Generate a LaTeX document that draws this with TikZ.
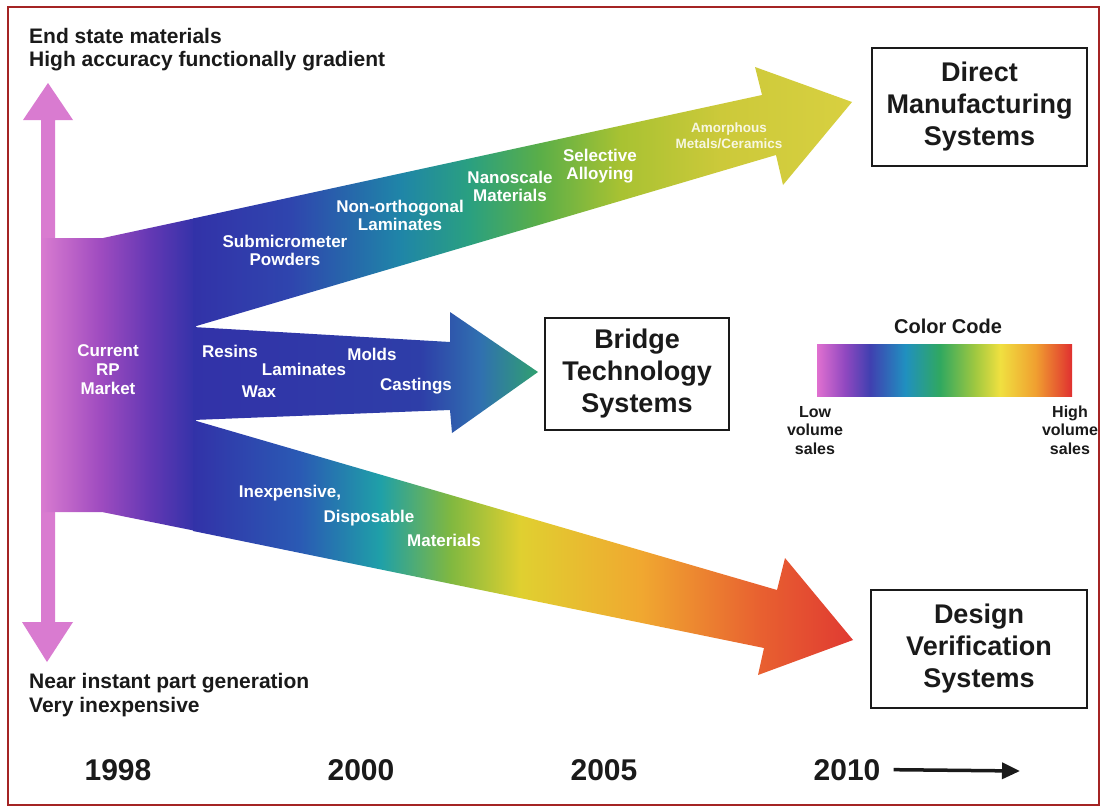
\documentclass[tikz,border=0pt]{standalone}
\usepackage{fontspec}
\setmainfont{Liberation Sans}
\usetikzlibrary{arrows.meta}

\definecolor{inkblack}{HTML}{1A1A1A}
\definecolor{frame}{HTML}{A42424}
\definecolor{rppink}{HTML}{D97BD0}
\definecolor{rpmagenta}{HTML}{A04CC0}
\definecolor{rppurple}{HTML}{6438B4}
\definecolor{rpblue}{HTML}{3232A8}
\definecolor{rpnavy}{HTML}{2E3EA8}
\definecolor{rpmid}{HTML}{2F45AE}
\definecolor{rpsky}{HTML}{2A5AB4}
\definecolor{rpsteel}{HTML}{3070B0}
\definecolor{rpteal}{HTML}{1F85A8}
\definecolor{rpcyan}{HTML}{1FA0A8}
\definecolor{rpsea}{HTML}{2AA080}
\definecolor{rpjade}{HTML}{30A070}
\definecolor{rpgreen}{HTML}{5AAE48}
\definecolor{rplime}{HTML}{80B840}
\definecolor{rpolive}{HTML}{A8C232}
\definecolor{rpkhaki}{HTML}{CCC93A}
\definecolor{rpsand}{HTML}{D8D040}
\definecolor{rpyellow}{HTML}{E0D030}
\definecolor{rpamber}{HTML}{F0A830}
\definecolor{rporange}{HTML}{E86030}
\definecolor{rpred}{HTML}{E03A32}
\definecolor{barpink}{HTML}{E070D0}
\definecolor{barpurple}{HTML}{9048C0}
\definecolor{barblue}{HTML}{4040B0}
\definecolor{barcyan}{HTML}{2090C0}
\definecolor{bargreen}{HTML}{30A860}
\definecolor{barlime}{HTML}{A0C840}
\definecolor{baryellow}{HTML}{F0E040}
\definecolor{barorange}{HTML}{F0A030}
\definecolor{barred}{HTML}{E03030}

\pgfdeclarehorizontalshading{bodyfan}{100bp}{color(0bp)=(rppink); color(25bp)=(rppink); color(43.8bp)=(rpmagenta); color(60bp)=(rppurple); color(75bp)=(rpblue); color(100bp)=(rpblue)}
\pgfdeclarehorizontalshading{topfan}{100bp}{color(0bp)=(rpblue); color(25bp)=(rpblue); color(32.4bp)=(rpmid); color(40.7bp)=(rpteal); color(46bp)=(rpsea); color(51.3bp)=(rpgreen); color(57.4bp)=(rpolive); color(65bp)=(rpkhaki); color(75bp)=(rpsand); color(100bp)=(rpsand)}
\pgfdeclarehorizontalshading{midfan}{100bp}{color(0bp)=(rpblue); color(25bp)=(rpblue); color(57.9bp)=(rpnavy); color(66.6bp)=(rpsteel); color(75bp)=(rpjade); color(100bp)=(rpjade)}
\pgfdeclarehorizontalshading{lowfan}{100bp}{color(0bp)=(rpblue); color(25bp)=(rpblue); color(33.1bp)=(rpsky); color(39.2bp)=(rpcyan); color(44.5bp)=(rplime); color(49.8bp)=(rpyellow); color(58.9bp)=(rpamber); color(68bp)=(rporange); color(75bp)=(rpred); color(100bp)=(rpred)}
\pgfdeclarehorizontalshading{colorcode}{100bp}{color(0bp)=(barpink); color(25bp)=(barpink); color(30.5bp)=(barpurple); color(35.4bp)=(barblue); color(42.3bp)=(barcyan); color(49.1bp)=(bargreen); color(56bp)=(barlime); color(60.9bp)=(baryellow); color(67.8bp)=(barorange); color(75bp)=(barred); color(100bp)=(barred)}

\tikzset{
  darklabel/.style={text=inkblack, font=\fontsize{21}{23.5}\selectfont\bfseries, inner sep=0pt, align=left, anchor=base west},
  whitelabel/.style={text=white, font=\fontsize{17}{18}\selectfont\bfseries, inner sep=0pt, align=center, anchor=base},
  keylabel/.style={text=inkblack, font=\fontsize{16}{18.5}\selectfont\bfseries, inner sep=0pt, align=center, anchor=base},
  yearlabel/.style={text=inkblack, font=\fontsize{30}{32}\selectfont\bfseries, inner sep=0pt, anchor=base},
  systembox/.style={draw=inkblack, line width=1.3pt, fill=white, text=inkblack, font=\fontsize{27}{32}\selectfont\bfseries, align=center, inner sep=0pt}
}

\begin{document}
\begin{tikzpicture}[x=1pt, y=-1pt]
    \useasboundingbox (0,0) rectangle (1105,809);
    \fill [white] (0,0) rectangle (1105,809);
    \draw [frame, line width=1.3pt] (8,7) rectangle (1099,805);

    \fill [rppink] (41,622) -- (41,120) -- (23,120) -- (48,83) -- (73,120) -- (55,120) -- (55,622) -- (73,622) -- (47,662) -- (22,622) -- cycle;
    \shade [shading=bodyfan] (41,238) -- (103,238) -- (196,218) -- (196,531) -- (102,512) -- (41,512) -- cycle;
    \shade [shading=topfan] (193,218.5) -- (762,95) -- (755,67) -- (852,102) -- (783,185) -- (776,155) -- (193,327) -- cycle;
    \shade [shading=midfan] (193,327) -- (450,342) -- (450,312) -- (538,372) -- (452,433) -- (450,410) -- (193,420) -- cycle;
    \shade [shading=lowfan] (193,420) -- (777,590) -- (785,558) -- (853,640) -- (758,675) -- (764,648) -- (193,531) -- cycle;

    \node [darklabel] (endstate) at (29,66.5) {End state materials\\High accuracy functionally gradient};
    \node [darklabel] (instant) at (29,712) {Near instant part generation\\Very inexpensive};

    \node [whitelabel, font=\fontsize{17}{19}\selectfont\bfseries] (market) at (108,394) {Current\\RP\\Market};
    \node [whitelabel] (powders) at (285,265) {Submicrometer\\Powders};
    \node [whitelabel] (nonortho) at (400,230) {Non-orthogonal\\Laminates};
    \node [whitelabel] (nanoscale) at (510,201) {Nanoscale\\Materials};
    \node [whitelabel] (alloying) at (600,179) {Selective\\Alloying};
    \node [whitelabel, text opacity=0.85, font=\fontsize{13.5}{16}\selectfont\bfseries] (amorphous) at (729,148) {Amorphous\\Metals/Ceramics};
    \node [whitelabel] (resins) at (230,357) {Resins};
    \node [whitelabel] (laminates) at (304,375) {Laminates};
    \node [whitelabel] (wax) at (259,397) {Wax};
    \node [whitelabel] (molds) at (372,360) {Molds};
    \node [whitelabel] (castings) at (416,390) {Castings};
    \node [whitelabel] (inexpensive) at (290,497) {Inexpensive,};
    \node [whitelabel] (disposable) at (369,522) {Disposable};
    \node [whitelabel] (materials) at (444,546) {Materials};

    \node [systembox, minimum width=215, minimum height=118] (direct) at (979.5,107) {Direct\\Manufacturing\\Systems};
    \node [systembox, minimum width=184, minimum height=112] (bridge) at (637,374) {Bridge\\Technology\\Systems};
    \node [systembox, minimum width=216, minimum height=118] (design) at (979,649) {Design\\Verification\\Systems};

    \node [keylabel, font=\fontsize{20}{22}\selectfont\bfseries] (colorcode) at (948,333) {Color Code};
    \shade [shading=colorcode] (817,344) rectangle (1072,396);
    \node [keylabel] (lowsales) at (815,454) {Low\\volume\\sales};
    \node [keylabel] (highsales) at (1070,454) {High\\volume\\sales};

    \node [yearlabel] (y1998) at (118,780) {1998};
    \node [yearlabel] (y2000) at (361,780) {2000};
    \node [yearlabel] (y2005) at (604,780) {2005};
    \node [yearlabel] (y2010) at (847,780) {2010};
    \coordinate (timeend) at (1020,771);
    \draw [inkblack, line width=3.5pt, -{Triangle[length=18pt, width=16pt]}] ([xshift=13pt]y2010.east) -- (timeend);
\end{tikzpicture}
\end{document}
